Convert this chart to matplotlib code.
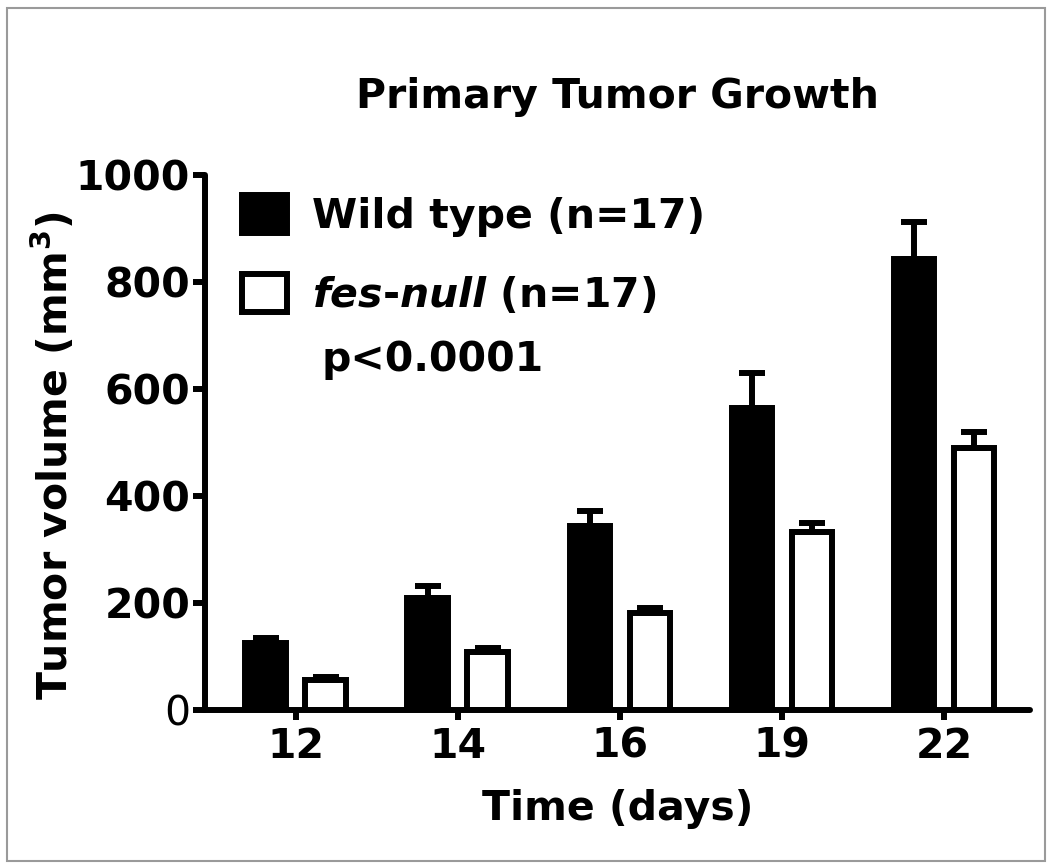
import numpy as np
import matplotlib
matplotlib.use('Agg')
import matplotlib.pyplot as plt
from matplotlib.patches import Patch, Rectangle

plt.rcParams['font.family'] = ['DejaVu Sans']
plt.rcParams['mathtext.fontset'] = 'custom'
plt.rcParams['mathtext.rm'] = 'DejaVu Sans:bold'
plt.rcParams['mathtext.bfit'] = 'DejaVu Sans:italic:bold'

days = ['12', '14', '16', '19', '22']
wild_type = [125, 210, 345, 565, 843]
wild_type_err = [10, 22, 28, 65, 70]
fes_null = [57, 108, 182, 333, 490]
fes_null_err = [5, 8, 9, 16, 30]

fs = 29.5
lw = 4.3

fig = plt.figure(figsize=(10.5, 8.64), dpi=100)
ax = fig.add_axes([0.195, 0.178, 0.786, 0.6195])

x = np.arange(len(days))
off = 0.185
w = 0.25

ax.bar(x - off, wild_type, w, color='black', edgecolor='black', linewidth=lw, zorder=2)
ax.bar(x + off, fes_null, w, color='white', edgecolor='black', linewidth=lw, zorder=2)
ax.errorbar(x - off, wild_type, yerr=[np.zeros(len(days)), wild_type_err], fmt='none',
            ecolor='black', elinewidth=lw, capsize=9.5, capthick=lw, zorder=3)
ax.errorbar(x + off, fes_null, yerr=[np.zeros(len(days)), fes_null_err], fmt='none',
            ecolor='black', elinewidth=lw, capsize=9.5, capthick=lw, zorder=3)

ax.set_xlim(-0.56, 4.53)
ax.set_ylim(0, 1000)
ax.set_xticks(x)
ax.set_xticklabels(days, fontsize=fs, fontweight='bold')
ax.set_yticks([0, 200, 400, 600, 800, 1000])
ylabels = ax.set_yticklabels(['0', '200', '400', '600', '800', '1000'], fontsize=fs, fontweight='bold')
ylabels[0].set_fontweight('normal')

for s in ['top', 'right']:
    ax.spines[s].set_visible(False)
for s in ['left', 'bottom']:
    ax.spines[s].set_linewidth(lw)
    ax.spines[s].set_capstyle('round')
ax.tick_params(axis='y', length=8.5, width=lw, pad=2)
ax.tick_params(axis='x', length=7, width=lw, pad=5)

ax.set_title('Primary Tumor Growth', fontsize=fs, fontweight='bold', pad=48)
ax.set_xlabel('Time (days)', fontsize=fs, fontweight='bold', labelpad=16)
ax.set_ylabel(r'Tumor volume (mm$^{3}$)', fontsize=fs, fontweight='bold')
ax.yaxis.set_label_coords(-0.155, 0.475)

handles = [Patch(facecolor='black', edgecolor='black', linewidth=lw),
           Patch(facecolor='white', edgecolor='black', linewidth=lw)]
labels = ['Wild type (n=17)', r'$\mathbfit{fes}\text{-}\mathbfit{null}$ (n=17)']
ax.legend(handles, labels, loc='upper left', bbox_to_anchor=(0.045, 0.962), frameon=False,
          prop={'size': fs, 'weight': 'bold'}, handlelength=1.1, handleheight=1.05,
          handletextpad=0.6, labelspacing=0.9, borderpad=0, borderaxespad=0)
ax.text(0.142, 0.654, 'p<0.0001', transform=ax.transAxes, fontsize=fs,
        fontweight='bold', va='center', ha='left')

fig.patches.append(Rectangle((0.007, 0.004), 0.988, 0.987, transform=fig.transFigure,
                             fill=False, edgecolor='#9a9a9a', linewidth=1.5))

fig.savefig('out.png', dpi=100)
